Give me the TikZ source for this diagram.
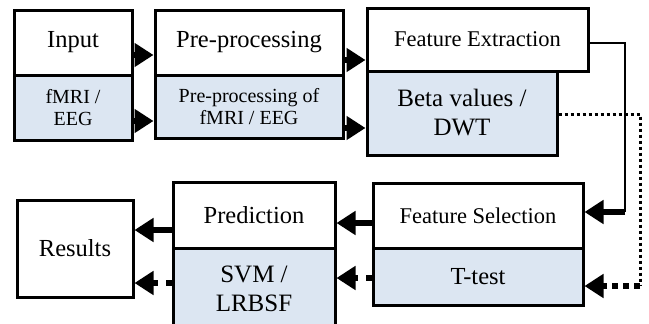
\documentclass[tikz,border=0pt]{standalone}
\usepackage{fontspec}
\setmainfont{Liberation Serif}
\usetikzlibrary{arrows.meta}
\definecolor{paleblue}{HTML}{DCE6F2}
\begin{document}
\begin{tikzpicture}[x=1pt,y=-1pt,
  box/.style={draw=black,line width=3pt,rectangle,inner sep=0pt,align=center,text=black},
  wbox/.style={box,fill=white},
  bbox/.style={box,fill=paleblue},
  big/.style={font=\fontsize{24.5}{27}\selectfont},
  mid/.style={font=\fontsize{22.5}{26}\selectfont},
  small/.style={font=\fontsize{20}{22.5}\selectfont},
  large/.style={font=\fontsize{25}{29}\selectfont},
  head/.style={-{Triangle[length=19pt,width=23pt]}},
  solidarrow/.style={head,line width=5.5pt},
  dasharrow/.style={head,line width=5.5pt,dash pattern=on 6pt off 8pt},
]
\useasboundingbox (0,0) rectangle (649,324);
% top row
\node[wbox,big,minimum width=118pt,minimum height=65pt] (in) at (73,42.5) {Input};
\node[bbox,small,minimum width=118pt,minimum height=65pt] (inb) at (73,107.5) {fMRI /\\EEG};
\node[wbox,big,minimum width=188pt,minimum height=65pt] (pre) at (249,42.5) {Pre-processing};
\node[bbox,small,minimum width=188pt,minimum height=63pt] (preb) at (249,106.5) {Pre-processing of\\fMRI / EEG};
\node[bbox,large,minimum width=190pt,minimum height=84pt] (feb) at (462,113) {Beta values /\\DWT};
\node[wbox,mid,minimum width=221pt,minimum height=63pt] (fe) at (477.5,39.5) {Feature Extraction};
% bottom row
\node[wbox,mid,minimum width=210pt,minimum height=65pt] (fs) at (478,215.5) {Feature Selection};
\node[bbox,big,minimum width=210pt,minimum height=57pt] (fsb) at (478,276.5) {T-test};
\node[wbox,big,minimum width=162pt,minimum height=66pt] (pred) at (254,215) {Prediction};
\node[bbox,large,minimum width=162pt,minimum height=82pt] (predb) at (254,289) {SVM /\\LRBSF};
\node[wbox,big,minimum width=116pt,minimum height=97pt] (res) at (75,248.5) {Results};
% corner coordinates
\coordinate (c1) at (625,43);
\coordinate (c2) at (625,212);
\coordinate (d1) at (640,114);
\coordinate (d2) at (640,286);
% top arrows
\draw[solidarrow] (in.east |- 0,55) -- (pre.west |- 0,55);
\draw[solidarrow] (inb.east |- 0,121) -- (preb.west |- 0,121);
\draw[solidarrow] (pre.east |- 0,60) -- (fe.west |- 0,60);
\draw[solidarrow] (preb.east |- 0,128) -- (feb.west |- 0,128);
% feature extraction to feature selection
\draw[line width=2.5pt] (fe.east |- c1) -- (c1) -- (c2);
\draw[solidarrow] (c2) -- (fs.east |- c2);
% dotted path
\draw[line width=3pt,dash pattern=on 3pt off 3pt] (feb.east |- d1) -- (d1) -- (d2);
\draw[head,line width=6pt,dash pattern=on 6pt off 5pt] (d2) -- (fsb.east |- d2);
% bottom arrows
\draw[solidarrow] (fs.west |- 0,223) -- (pred.east |- 0,223);
\draw[dasharrow] (fsb.west |- 0,278) -- (predb.east |- 0,278);
\draw[solidarrow] (pred.west |- 0,230) -- (res.east |- 0,230);
\draw[dasharrow] (predb.west |- 0,283) -- (res.east |- 0,283);
\end{tikzpicture}
\end{document}
